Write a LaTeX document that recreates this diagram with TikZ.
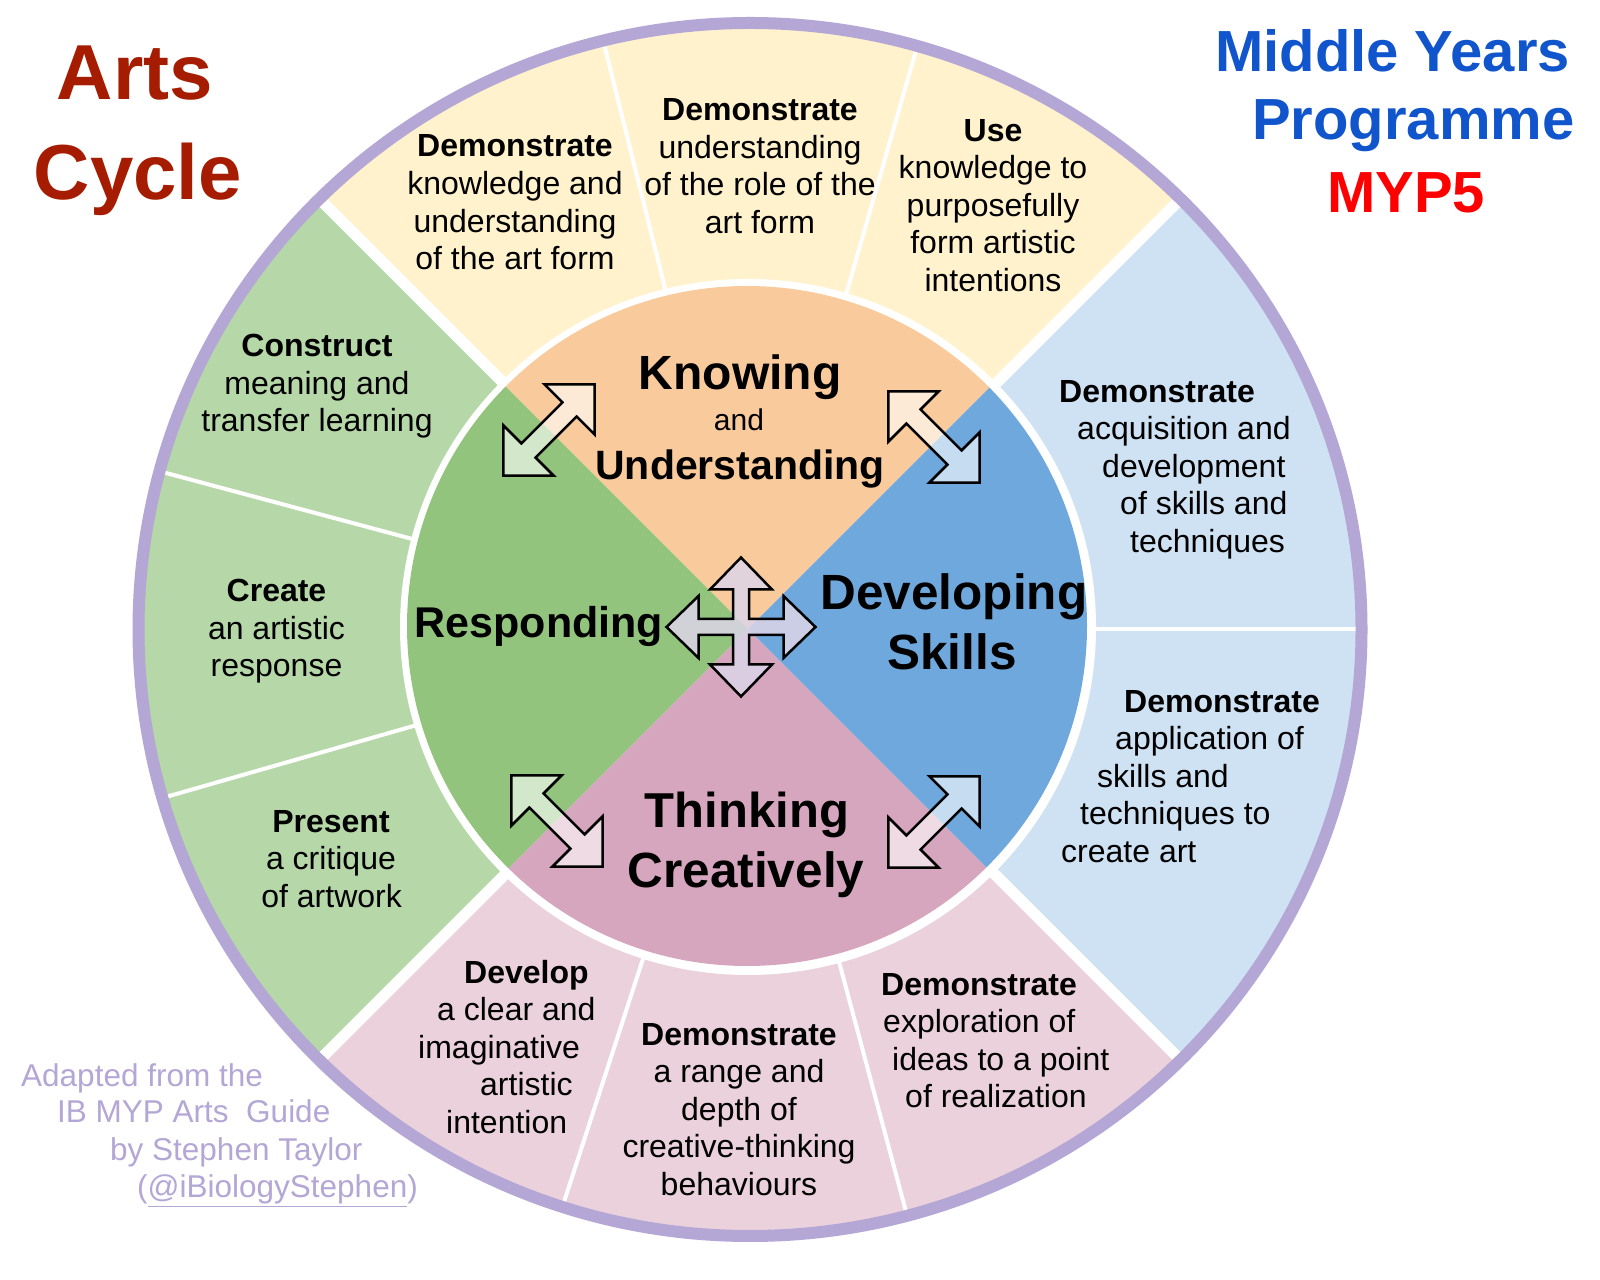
\documentclass[tikz,border=0pt]{standalone}
\usepackage{fontspec}
\setmainfont{Liberation Sans}
\definecolor{segY}{HTML}{FFF2CC}
\definecolor{segG}{HTML}{B6D7A8}
\definecolor{segB}{HTML}{CFE2F3}
\definecolor{segP}{HTML}{EAD1DC}
\definecolor{inO}{HTML}{F9CB9C}
\definecolor{inB}{HTML}{6FA8DC}
\definecolor{inP}{HTML}{D5A6BD}
\definecolor{inG}{HTML}{93C47D}
\definecolor{ringC}{HTML}{B4A7D6}
\definecolor{artsC}{HTML}{A61C00}
\definecolor{mypB}{HTML}{1155CC}
\definecolor{mypR}{HTML}{FF0000}
\definecolor{crossC}{HTML}{DDD5E8}
\begin{document}
\begin{tikzpicture}[x=1pt,y=1pt,
  segtext/.style={font=\fontsize{32}{38}\selectfont, inner sep=0pt, anchor=base},
  segleft/.style={segtext, anchor=base west},
  inlab/.style={inner sep=0pt, anchor=base},
  credit/.style={font=\fontsize{31.5}{37}\selectfont, text=ringC, inner sep=0pt, anchor=base west},
  artstitle/.style={font=\bfseries\fontsize{78}{80}\selectfont, text=artsC, inner sep=0pt, anchor=base},
  myptitle/.style={font=\bfseries\fontsize{58}{60}\selectfont, text=mypB, inner sep=0pt, anchor=base west},
  dblarrow/.style={draw=black, line width=2.5pt, fill=white, fill opacity=0.6, line join=miter},
  crossarrow/.style={draw=black, line width=2.5pt, fill=crossC, fill opacity=0.85, line join=miter},
  thinsep/.style={white, line width=4pt},
  thicksep/.style={white, line width=11pt}
]
\useasboundingbox (0,0) rectangle (1600,1279);
\fill[white] (0,0) rectangle (1600,1279);
\coordinate (O) at (750,649.5);
\coordinate (I) at (747,653);
\coordinate (V) at (748,650);
% outer segments
\begin{scope}
  \clip (O) ellipse [x radius=608, y radius=603];
  \fill[segY] (O) -- ++(1000,1000) -- ++(-2000,0) -- cycle;
  \fill[segG] (O) -- ++(-1000,1000) -- ++(0,-2000) -- cycle;
  \fill[segP] (O) -- ++(-1000,-1000) -- ++(2000,0) -- cycle;
  \fill[segB] (O) -- ++(1000,-1000) -- ++(0,2000) -- cycle;
  \foreach \a in {74,104,165,196,252,285,0} \draw[thinsep] (O) -- ++(\a:700);
  \foreach \a in {45,135,225,315} \draw[thicksep] (O) -- ++(\a:700);
\end{scope}
\draw[ringC, line width=12pt] (O) ellipse [x radius=611.5, y radius=606.5];
% white gap
\fill[white] (748,652) circle [radius=348];
% inner quadrants
\begin{scope}
  \clip (I) circle [radius=340];
  \fill[inO] (V) -- ++(1000,1000) -- ++(-2000,0) -- cycle;
  \fill[inG] (V) -- ++(-1000,1000) -- ++(0,-2000) -- cycle;
  \fill[inP] (V) -- ++(-1000,-1000) -- ++(2000,0) -- cycle;
  \fill[inB] (V) -- ++(1000,-1000) -- ++(0,2000) -- cycle;
\end{scope}
% arrows
\draw[crossarrow, shift={(741,652)}]
  (0,69.5) -- (31,37.5) -- (8,37.5) -- (8,8) -- (42.5,8) -- (42.5,31) -- (74.5,0)
  -- (42.5,-31) -- (42.5,-8) -- (8,-8) -- (8,-37.5) -- (31,-37.5) -- (0,-69.5)
  -- (-31,-37.5) -- (-8,-37.5) -- (-8,-8) -- (-42.5,-8) -- (-42.5,-31) -- (-74.5,0)
  -- (-42.5,31) -- (-42.5,8) -- (-8,8) -- (-8,37.5) -- (-31,37.5) -- cycle;
\foreach \cx/\cy/\r in {549/849/45, 934/842/-45, 557/458/-45, 934/457/45}
  \draw[dblarrow, shift={(\cx,\cy)}, rotate=\r]
    (-64.5,0) -- (-29,35.4) -- (-29,10) -- (29,10) -- (29,35.4) -- (64.5,0)
    -- (29,-35.4) -- (29,-10) -- (-29,-10) -- (-29,-35.4) -- cycle;
% inner labels
\node[inlab, font=\bfseries\fontsize{48}{50}\selectfont] (kn) at (740,889) {Knowing};
\node[inlab, font=\fontsize{30}{32}\selectfont] (kand) at (739,848.4) {and};
\node[inlab, font=\bfseries\fontsize{41}{43}\selectfont] (und) at (740,799.4) {Understanding};
\node[inlab, font=\bfseries\fontsize{49.5}{51}\selectfont] (dev) at (954,669) {Developing};
\node[inlab, font=\bfseries\fontsize{49.5}{51}\selectfont] (ski) at (952,609) {Skills};
\node[inlab, font=\bfseries\fontsize{49}{51}\selectfont] (thi) at (747,451.4) {Thinking};
\node[inlab, font=\bfseries\fontsize{49.5}{51}\selectfont] (cre) at (746,391.2) {Creatively};
\node[inlab, font=\bfseries\fontsize{43}{45}\selectfont] (res) at (539,641.2) {Responding};
% centred segment texts
\foreach \n/\x/\y/\t in {
  a1/515/1122/{\textbf{Demonstrate}}, a2/515/1084/{knowledge and}, a3/515/1046.5/{understanding}, a4/515/1009/{of the art form},
  b1/760/1158/{\textbf{Demonstrate}}, b2/760/1120.5/{understanding}, b3/760/1083/{of the role of the}, b4/760/1045.5/{art form},
  c1/993/1137.4/{\textbf{Use}}, c2/993/1100/{knowledge to}, c3/993/1062.5/{purposefully}, c4/993/1025/{form artistic}, c5/993/987.4/{intentions},
  g1/739/233.3/{\textbf{Demonstrate}}, g2/739/196/{a range and}, g3/739/158.5/{depth of}, g4/739/121/{creative-thinking}, g5/739/83.5/{behaviours},
  j1/317/922/{\textbf{Construct}}, j2/317/884.5/{meaning and}, j3/317/847/{transfer learning},
  k1/276.5/677/{\textbf{Create}}, k2/276.5/639.5/{an artistic}, k3/276.5/602/{response},
  l1/331/446.5/{\textbf{Present}}, l2/331/409/{a critique}, l3/331.6/371.5/{of artwork}}
  \node[segtext] (\n) at (\x,\y) {\t};
% left-aligned segment texts
\foreach \n/\x/\y/\t in {
  d1/1059/876/{\textbf{Demonstrate}}, d2/1077/839/{acquisition and}, d3/1102/801.5/{development}, d4/1120/764/{of skills and}, d5/1130/726.5/{techniques},
  e1/1124/566/{\textbf{Demonstrate}}, e2/1115/529/{application of}, e3/1097/491.5/{skills and}, e4/1080/454/{techniques to}, e5/1061/416.5/{create art},
  f1/464/295.5/{\textbf{Develop}}, f2/437/258/{a clear and}, f3/418/220.5/{imaginative}, f4/480/183/{artistic}, f5/446/145.5/{intention},
  h1/881/283.3/{\textbf{Demonstrate}}, h2/883/246/{exploration of}, h3/892/208.5/{ideas to a point}, h4/905/171/{of realization}}
  \node[segleft] (\n) at (\x,\y) {\t};
% titles
\node[artstitle] (t1) at (135,1179) {Arts};
\node[artstitle] (t2) at (138,1079) {Cycle};
\node[myptitle] (t3) at (1215,1207) {Middle Years};
\node[myptitle] (t4) at (1252,1139) {Programme};
\node[myptitle, text=mypR] (t5) at (1327,1066) {MYP5};
% credits
\node[credit] (cr1) at (21,192) {Adapted from the};
\node[credit] (cr2) at (57,156) {IB MYP Arts~ Guide};
\node[credit] (cr3) at (110,118) {by Stephen Taylor};
\node[credit] (cr4) at (137,81) {(\underline{@iBiologyStephen})};
\end{tikzpicture}
\end{document}
